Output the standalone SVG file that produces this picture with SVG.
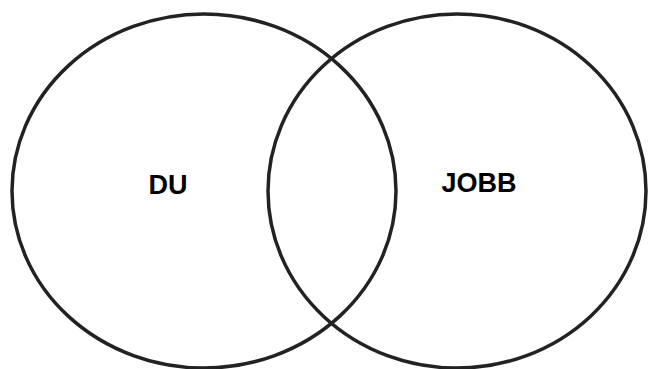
<svg xmlns="http://www.w3.org/2000/svg" width="649" height="369" viewBox="0 0 649 369">
<style>
.set{fill:none;stroke:#222222;stroke-width:3.5}
.lbl{font-family:"Liberation Sans",Arial,sans-serif;font-weight:bold;font-size:27px;fill:#000000;text-anchor:middle}
</style>
<rect width="649" height="369" fill="#ffffff"/>
<g id="du">
<ellipse class="set" cx="204" cy="191" rx="192" ry="177"/>
<text class="lbl" x="168" y="194">DU</text>
</g>
<g id="jobb">
<ellipse class="set" cx="457" cy="191" rx="189" ry="177"/>
<text class="lbl" x="479" y="192">JOBB</text>
</g>
<g id="connectors"/>
</svg>
